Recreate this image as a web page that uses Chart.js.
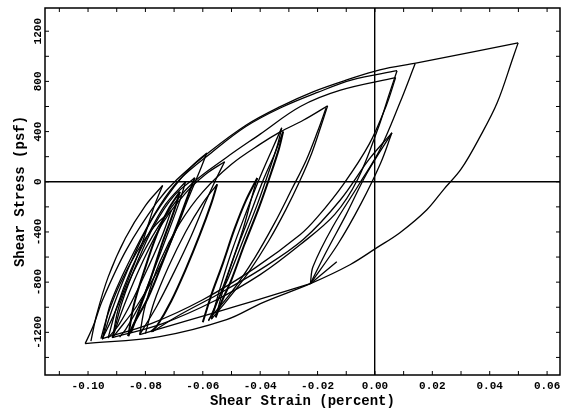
<!DOCTYPE html>
<html>
<head>
<meta charset="utf-8">
<script src="https://cdn.jsdelivr.net/npm/chart.js@4.4.1/dist/chart.umd.min.js"></script>
<style>
  html, body { margin: 0; padding: 0; background: #fff; }
  #wrap { width: 566px; height: 416px; }
</style>
</head>
<body>
<div id="wrap"><canvas id="loopChart" width="566" height="416"></canvas></div>
<script>
// Tick labels (strain in percent, stress in psf)
const strainTicks = ['-0.10', '-0.08', '-0.06', '-0.04', '-0.02', '0.00', '0.02', '0.04', '0.06'];
const stressTicks = ['-1200', '-800', '-400', '0', '400', '800', '1200'];

// Each branch is a list of [strain, stress] points

// outer loop
const envelopeUp = [[-0.101, -1290], [-0.0982, -1150], [-0.0949, -940], [-0.0866, -541], [-0.0761, -167],
  [-0.0691, 16], [-0.0576, 239], [-0.0447, 454], [-0.0332, 597], [-0.0216, 717], [-0.0098, 812],
  [0.0017, 892], [0.0147, 947], [0.0342, 1035], [0.0499, 1107]];
const envelopeDown = [[0.0499, 1107], [0.0482, 995], [0.0426, 629], [0.0366, 358], [0.0300, 100],
  [0.0240, -60], [0.0181, -223], [0.0087, -406], [0.0007, -525], [-0.0087, -661], [-0.0225, -812],
  [-0.0391, -963], [-0.0517, -1099], [-0.075, -1234], [-0.101, -1290]];

// reloading from the turning point near (-0.0225, -812)
const rightUp = [[-0.0225, -812], [-0.0216, -677], [-0.0147, -358], [-0.0052, -8], [0.0017, 255],
  [0.0087, 629], [0.0140, 940]];
const smallPeakUp = [[-0.0225, -812], [-0.017, -560], [-0.010, -260], [-0.003, 60], [0.0059, 390]];
const smallPeakDown = [[0.0059, 390], [0.002, 150], [-0.005, -180], [-0.013, -500], [-0.0225, -812]];
const stub = [[-0.0225, -812], [-0.0133, -637]];

// loops peaking just right of zero strain
const peakAUp = [[-0.095, -1255], [-0.092, -960], [-0.084, -560], [-0.075, -190], [-0.068, 20],
  [-0.057, 232], [-0.045, 440], [-0.033, 588], [-0.020, 712], [-0.008, 812], [0.0077, 885]];
const peakADown = [[0.0077, 885], [0.005, 700], [0.001, 420], [-0.006, 20], [-0.014, -260],
  [-0.026, -500], [-0.040, -740], [-0.056, -950], [-0.074, -1130], [-0.0915, -1242]];
const peakBUp = [[-0.0915, -1242], [-0.089, -980], [-0.082, -620], [-0.073, -270], [-0.064, -20],
  [-0.052, 190], [-0.040, 380], [-0.026, 600], [-0.012, 730], [0.0072, 830]];
const peakBDown = [[0.0072, 830], [0.004, 610], [-0.002, 300], [-0.011, -20], [-0.020, -280],
  [-0.026, -420], [-0.042, -690], [-0.060, -940], [-0.078, -1130], [-0.095, -1250]];

// loop peaking at -0.0165
const peakCUp = [[-0.082, -1218], [-0.080, -980], [-0.075, -640], [-0.068, -330], [-0.060, -80],
  [-0.050, 140], [-0.040, 300], [-0.033, 398], [-0.025, 490], [-0.0165, 605]];
const peakCDown = [[-0.0165, 605], [-0.019, 430], [-0.022, 230], [-0.026, 16], [-0.031, -220],
  [-0.037, -470], [-0.044, -720], [-0.051, -930], [-0.057, -1095]];
const peakCDown2 = [[-0.017, 590], [-0.020, 400], [-0.024, 170], [-0.029, -60], [-0.035, -330],
  [-0.042, -610], [-0.050, -880], [-0.058, -1100]];

// loops peaking at -0.0325
const peakDUp = [[-0.057, -1095], [-0.054, -850], [-0.050, -560], [-0.045, -250], [-0.040, 40],
  [-0.036, 250], [-0.0325, 430]];
const peakDDown = [[-0.0325, 430], [-0.034, 290], [-0.037, 80], [-0.041, -180], [-0.046, -470],
  [-0.051, -760], [-0.055, -960], [-0.057, -1095]];
const peakEUp = [[-0.0555, -1080], [-0.053, -870], [-0.049, -590], [-0.044, -290], [-0.039, 10],
  [-0.035, 220], [-0.032, 400]];
const peakEDown = [[-0.032, 400], [-0.0335, 260], [-0.0365, 50], [-0.0405, -210], [-0.0455, -500],
  [-0.050, -780], [-0.0535, -960], [-0.0555, -1080]];

// narrow loops on the left
const fingerAUp = [[-0.095, -1255], [-0.091, -980], [-0.085, -640], [-0.078, -310], [-0.070, -40],
  [-0.064, 120], [-0.0586, 230]];
const fingerADown = [[-0.0586, 230], [-0.061, 90], [-0.065, -130], [-0.070, -420], [-0.076, -720],
  [-0.083, -990], [-0.090, -1200], [-0.0915, -1242]];
const fingerBUp = [[-0.0915, -1242], [-0.087, -960], [-0.081, -640], [-0.074, -330], [-0.066, -90],
  [-0.059, 60], [-0.0524, 160]];
const fingerBDown = [[-0.0524, 160], [-0.055, 40], [-0.059, -160], [-0.064, -430], [-0.070, -720],
  [-0.076, -990], [-0.082, -1218]];
const fingerCUp = [[-0.0915, -1242], [-0.088, -950], [-0.083, -650], [-0.077, -350], [-0.070, -110],
  [-0.0628, 32]];
const fingerCDown = [[-0.0628, 32], [-0.065, -100], [-0.069, -350], [-0.074, -640], [-0.079, -920],
  [-0.084, -1130], [-0.086, -1230]];
const fingerDUp = [[-0.086, -1230], [-0.084, -980], [-0.080, -680], [-0.076, -420], [-0.072, -220],
  [-0.068, -80]];
const fingerDDown = [[-0.068, -80], [-0.070, -230], [-0.074, -480], [-0.078, -760], [-0.082, -1010],
  [-0.085, -1200]];
const fingerEUp = [[-0.0955, -1250], [-0.093, -1050], [-0.089, -820], [-0.083, -560], [-0.077, -360],
  [-0.071, -230]];
const fingerEDown = [[-0.071, -230], [-0.074, -420], [-0.079, -680], [-0.084, -920], [-0.089, -1130],
  [-0.093, -1245]];
const fingerFUp = [[-0.093, -1245], [-0.090, -1000], [-0.085, -700], [-0.079, -420], [-0.073, -180],
  [-0.066, 0]];
const fingerFDown = [[-0.066, 0], [-0.068, -150], [-0.072, -400], [-0.077, -700], [-0.082, -980],
  [-0.087, -1180], [-0.089, -1238]];
const fingerGUp = [[-0.080, -1210], [-0.077, -960], [-0.072, -680], [-0.066, -400], [-0.060, -170],
  [-0.055, -20]];
const fingerGDown = [[-0.055, -20], [-0.057, -170], [-0.061, -420], [-0.066, -700], [-0.071, -950],
  [-0.076, -1150], [-0.078, -1195]];
const fingerHUp = [[-0.060, -1120], [-0.057, -900], [-0.053, -650], [-0.049, -380], [-0.045, -150],
  [-0.041, 30]];
const fingerHDown = [[-0.041, 30], [-0.043, -130], [-0.046, -380], [-0.050, -650], [-0.054, -900],
  [-0.058, -1110]];
const fingerIUp = [[-0.099, -1270], [-0.097, -1060], [-0.093, -760], [-0.087, -450], [-0.080, -190],
  [-0.074, -30]];
const fingerIDown = [[-0.074, -30], [-0.077, -200], [-0.081, -480], [-0.086, -780], [-0.091, -1060],
  [-0.095, -1250]];

// low-angle reloading lines along the bottom
const fanA = [[-0.082, -1218], [-0.066, -1110], [-0.048, -990], [-0.035, -900], [-0.0225, -812]];
const fanB = [[-0.0775, -1194], [-0.068, -1060], [-0.055, -900], [-0.040, -700], [-0.025, -460],
  [-0.012, -143], [-0.002, 180], [0.0059, 390]];

const branches = [envelopeUp, envelopeDown, rightUp, smallPeakUp, smallPeakDown, stub,
  peakAUp, peakADown, peakBUp, peakBDown, peakCUp, peakCDown, peakCDown2,
  peakDUp, peakDDown, peakEUp, peakEDown,
  fingerAUp, fingerADown, fingerBUp, fingerBDown, fingerCUp, fingerCDown,
  fingerDUp, fingerDDown, fingerEUp, fingerEDown, fingerFUp, fingerFDown,
  fingerGUp, fingerGDown, fingerHUp, fingerHDown, fingerIUp, fingerIDown, fanA, fanB];

// strands that print darker in the original (many overlapping cycles)
const heavyBranches = [fingerCDown, fingerDUp, fingerDDown, fingerGDown, fingerHUp, peakEDown];

const monoFont = { family: 'Liberation Mono', weight: 'bold' };

// Frame with inward ticks on all four sides, plus the rotated stress labels
const frameTicks = {
  id: 'frameTicks',
  afterDraw(chart) {
    const { ctx, chartArea: a, scales: { x, y } } = chart;
    ctx.save();
    ctx.strokeStyle = '#000';
    ctx.lineWidth = 1.5;
    ctx.strokeRect(a.left, a.top, a.right - a.left, a.bottom - a.top);
    ctx.lineWidth = 1;
    ctx.beginPath();
    x.ticks.forEach(t => {
      const px = x.getPixelForValue(t.value);
      ctx.moveTo(px, a.bottom); ctx.lineTo(px, a.bottom - 4);
      ctx.moveTo(px, a.top); ctx.lineTo(px, a.top + 4);
    });
    y.ticks.forEach(t => {
      const py = y.getPixelForValue(t.value);
      ctx.moveTo(a.left, py); ctx.lineTo(a.left + 4, py);
      ctx.moveTo(a.right, py); ctx.lineTo(a.right - 4, py);
    });
    ctx.stroke();

    // stress labels read bottom-to-top, like the original
    ctx.fillStyle = '#000';
    ctx.font = 'bold 11px "Liberation Mono"';
    ctx.textAlign = 'center';
    ctx.textBaseline = 'middle';
    stressTicks.forEach(lbl => {
      const py = y.getPixelForValue(Number(lbl));
      ctx.save();
      ctx.translate(a.left - 7, py);
      ctx.rotate(-Math.PI / 2);
      ctx.fillText(lbl, 0, 0);
      ctx.restore();
    });
    ctx.restore();
  }
};

const zeroLine = c => (Math.abs(c.tick.value) < 1e-9 ? '#000' : 'rgba(0,0,0,0)');

new Chart(document.getElementById('loopChart'), {
  type: 'scatter',
  data: {
    datasets: branches.map(b => ({
      data: b.map(p => ({ x: p[0], y: p[1] })),
      showLine: true,
      borderColor: '#000',
      borderWidth: heavyBranches.includes(b) ? 2 : 1.3,
      pointRadius: 0,
      tension: 0.35,
      fill: false
    }))
  },
  options: {
    responsive: false,
    animation: false,
    layout: { padding: { top: 8, right: 6, left: 0, bottom: 0 } },
    plugins: { legend: { display: false }, tooltip: { enabled: false } },
    scales: {
      x: {
        min: -0.115,
        max: 0.0645,
        afterFit: s => { s.height = 41; s.paddingLeft = 0; s.paddingRight = 0; },
        border: { display: false },
        grid: { color: zeroLine, lineWidth: 1.4, drawTicks: false },
        ticks: {
          stepSize: 0.01,
          includeBounds: false,
          padding: 5,
          color: '#000',
          font: { ...monoFont, size: 11 },
          callback: v => {
            const lbl = (Math.round(v * 100) / 100).toFixed(2);
            return onGrid(v) && strainTicks.includes(lbl) ? lbl : '';
          },
          maxRotation: 0,
          autoSkip: false
        },
        title: {
          display: true,
          text: 'Shear Strain (percent)',
          color: '#000',
          font: { ...monoFont, size: 14 },
          padding: { top: 0, bottom: 6 }
        }
      },
      y: {
        min: -1540,
        max: 1385,
        afterFit: s => { s.width = 45; s.paddingTop = 0; s.paddingBottom = 0; },
        border: { display: false },
        grid: { color: zeroLine, lineWidth: 1.4, drawTicks: false },
        ticks: {
          stepSize: 200,
          includeBounds: false,
          autoSkip: false,
          callback: () => ''
        },
        title: {
          display: true,
          text: 'Shear Stress (psf)',
          color: '#000',
          font: { ...monoFont, size: 14 },
          padding: { top: 12, bottom: 0 }
        }
      }
    }
  },
  plugins: [frameTicks]
});

// true when a strain value sits on the 0.02 label grid
function onGrid(v) {
  return Math.abs(v / 0.02 - Math.round(v / 0.02)) < 1e-6;
}
</script>
</body>
</html>
